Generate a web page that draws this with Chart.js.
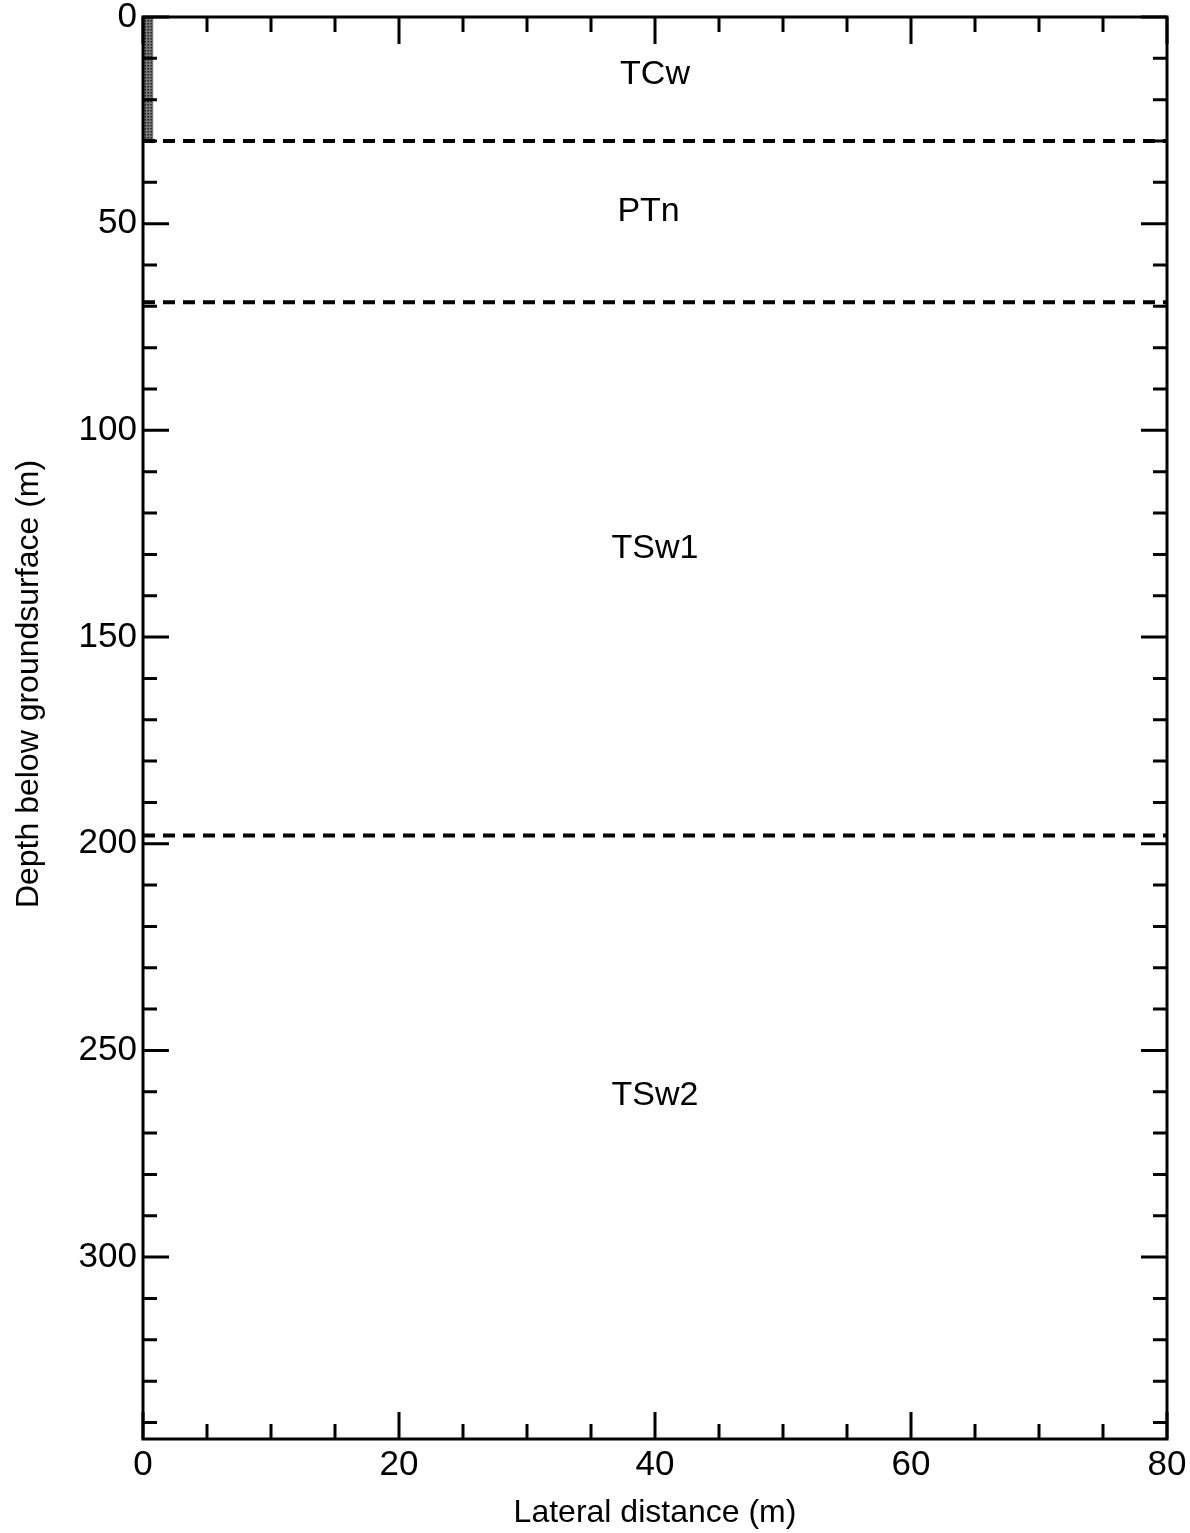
<!DOCTYPE html>
<html>
<head>
<meta charset="utf-8">
<script src="https://cdn.jsdelivr.net/npm/chart.js@4/dist/chart.umd.min.js"></script>
<style>
  html, body { margin: 0; padding: 0; background: #fff; }
  #wrap { width: 1190px; height: 1533px; }
</style>
</head>
<body>
<div id="wrap"><canvas id="myChart"></canvas></div>
<script>
// layer names and where their labels sit (lateral m, depth m)
const layerNames = ['TCw', 'PTn', 'TSw1', 'TSw2'];
const labelX = [40, 39.5, 40, 40];
const labelDepth = [14, 47, 128.5, 261];

// contacts between the layers (depth m)
const contactDepths = [30, 69, 198];

// shaded column at the left edge
const shadeX = [0, 0.8];
const shadeDepth = [0, 30];

// axes
const xTicks = [0, 20, 40, 60, 80];
const yTicks = [0, 50, 100, 150, 200, 250, 300];
const xMinor = 5;
const yMinor = 10;
const xMax = 80;
const yMax = 344;
const yTitle = 'Depth below groundsurface (m)';

const FONT = '"Liberation Sans", Arial, Helvetica, sans-serif';

const datasets = contactDepths.map(d => ({
  type: 'line',
  data: [{x: 0, y: d}, {x: xMax, y: d}],
  borderColor: '#000',
  borderWidth: 4,
  borderDash: [12, 8],
  pointRadius: 0,
  fill: false
}));

const extras = {
  id: 'extras',
  beforeDatasetsDraw(chart) {
    const {ctx, scales: {x, y}} = chart;
    // stippled column
    ctx.save();
    const x0 = x.getPixelForValue(shadeX[0]), x1 = x.getPixelForValue(shadeX[1]);
    const y0 = y.getPixelForValue(shadeDepth[0]), y1 = y.getPixelForValue(shadeDepth[1]);
    ctx.fillStyle = '#777';
    ctx.fillRect(x0, y0, x1 - x0, y1 - y0);
    ctx.fillStyle = '#222';
    for (let py = y0; py < y1; py += 3) {
      for (let px = x0 + ((py / 3) % 2 ? 1.5 : 0); px < x1; px += 3) {
        ctx.fillRect(px, py, 1.5, 1.5);
      }
    }
    ctx.restore();
  },
  afterDatasetsDraw(chart) {
    const {ctx, chartArea: a, scales: {x, y}} = chart;
    ctx.save();
    // layer labels
    ctx.fillStyle = '#000';
    ctx.font = '34px ' + FONT;
    ctx.textAlign = 'center';
    ctx.textBaseline = 'middle';
    layerNames.forEach((n, i) => {
      ctx.fillText(n, x.getPixelForValue(labelX[i]), y.getPixelForValue(labelDepth[i]));
    });

    // y axis title, sits a bit above the middle in the original
    ctx.save();
    ctx.font = '32px ' + FONT;
    ctx.translate(29, 684);
    ctx.rotate(-Math.PI / 2);
    ctx.fillText(yTitle, 0, 0);
    ctx.restore();

    // inward ticks on all four sides
    ctx.strokeStyle = '#000';
    ctx.lineWidth = 3;
    ctx.beginPath();
    for (let v = 0; v <= xMax; v += xMinor) {
      const px = x.getPixelForValue(v);
      const len = v % 20 === 0 ? 27 : 15;
      ctx.moveTo(px, a.bottom); ctx.lineTo(px, a.bottom - len);
      ctx.moveTo(px, a.top); ctx.lineTo(px, a.top + len);
    }
    for (let v = 0; v <= yMax; v += yMinor) {
      const py = y.getPixelForValue(v);
      const len = v % 50 === 0 ? 26 : 14;
      ctx.moveTo(a.left, py); ctx.lineTo(a.left + len, py);
      ctx.moveTo(a.right, py); ctx.lineTo(a.right - len, py);
    }
    ctx.stroke();

    // frame
    ctx.lineWidth = 3;
    ctx.strokeRect(a.left, a.top, a.right - a.left, a.bottom - a.top);
    ctx.restore();
  }
};

const config = {
  type: 'scatter',
  data: { datasets: datasets },
  options: {
    responsive: true,
    maintainAspectRatio: false,
    animation: false,
    layout: { padding: { top: 17, right: 23, left: 0, bottom: 0 } },
    plugins: {
      legend: { display: false },
      tooltip: { enabled: false }
    },
    scales: {
      x: {
        type: 'linear',
        min: 0,
        max: xMax,
        afterFit(s) { s.height = 94; s.paddingLeft = 0; s.paddingRight = 0; },
        afterBuildTicks(s) { s.ticks = xTicks.map(v => ({value: v})); },
        grid: { display: false, drawTicks: false },
        border: { display: false },
        ticks: {
          color: '#000',
          padding: 9,
          font: { family: FONT, size: 35, lineHeight: 1 },
          maxRotation: 0
        },
        title: {
          display: true,
          text: 'Lateral distance (m)',
          color: '#000',
          font: { family: FONT, size: 32, lineHeight: 1 },
          padding: { top: 4, bottom: 4 }
        }
      },
      y: {
        type: 'linear',
        reverse: true,
        min: 0,
        max: yMax,
        afterFit(s) { s.width = 143; s.paddingTop = 0; s.paddingBottom = 0; },
        afterBuildTicks(s) { s.ticks = yTicks.map(v => ({value: v})); },
        grid: { display: false, drawTicks: false },
        border: { display: false },
        ticks: {
          color: '#000',
          padding: 6,
          font: { family: FONT, size: 35, lineHeight: 1 }
        },
        title: { display: false }
      }
    }
  },
  plugins: [extras]
};

new Chart(document.getElementById('myChart'), config);
</script>
</body>
</html>
